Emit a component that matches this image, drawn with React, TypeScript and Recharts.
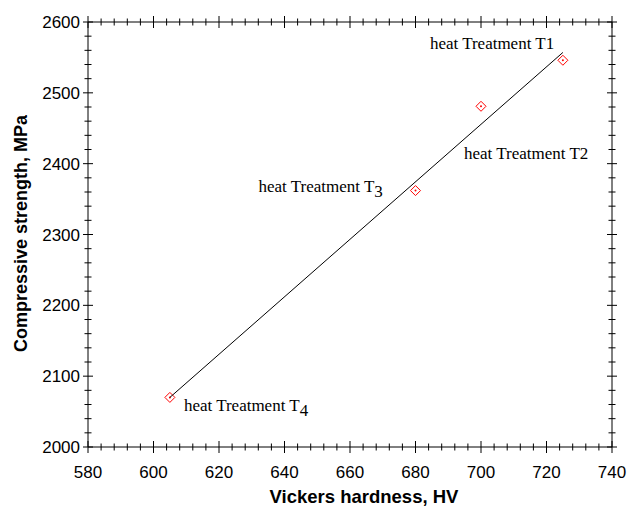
import { ScatterChart, Scatter, XAxis, YAxis } from 'recharts';

const hardness = [605, 680, 700, 725];
const strength = [2070, 2362, 2481, 2546];
const labelMain = ['heat Treatment T', 'heat Treatment T', 'heat Treatment T2', 'heat Treatment T1'];
const labelSub = ['4', '3', '', ''];

// least-squares fit through the four points
const fitX = [605, 725];
const fitY = [2070, 2557];

const xTicks = Array.from({ length: 41 }, (_, i) => 580 + i * 4);
const yTicks = Array.from({ length: 31 }, (_, i) => 2000 + i * 20);

const points = hardness.map((x, i) => ({ x, y: strength[i], main: labelMain[i], sub: labelSub[i] }));
const fit = fitX.map((x, i) => ({ x, y: fitY[i] }));

// text offsets from each marker (px)
const labelOffset = [
  { dx: 14, dy: 14 },
  { dx: -157, dy: 1 },
  { dx: -17, dy: 53 },
  { dx: -133, dy: -11 },
];

const tickFont = { fontFamily: 'Liberation Sans, Arial, sans-serif', fontSize: 17, fill: '#000' };
const titleFont = { fontFamily: 'Liberation Sans, Arial, sans-serif', fontWeight: 'bold', fill: '#000' };

const XTick = ({ x, y, payload, top }: any) => {
  const major = payload.value % 20 === 0;
  const len = major ? 6 : 3.5;
  return (
    <g>
      <line x1={x} x2={x} y1={y - len} y2={y + len} stroke="#000" />
      {!top && major && (
        <text x={x} y={y + 31} textAnchor="middle" {...tickFont}>
          {payload.value}
        </text>
      )}
    </g>
  );
};

const YTick = ({ x, y, payload, right }: any) => {
  const major = payload.value % 100 === 0;
  const len = major ? 5 : 3.5;
  return (
    <g>
      <line x1={x - len} x2={x + len} y1={y} y2={y} stroke="#000" />
      {!right && major && (
        <text x={x - 8} y={y + 6} textAnchor="end" {...tickFont}>
          {payload.value}
        </text>
      )}
    </g>
  );
};

const Marker = ({ cx, cy, payload, index }: any) => {
  const r = 5;
  const off = labelOffset[index];
  return (
    <g>
      <path
        d={`M${cx},${cy - r}L${cx + r},${cy}L${cx},${cy + r}L${cx - r},${cy}Z`}
        fill="none"
        stroke="#f00"
      />
      <circle cx={cx} cy={cy} r={1} fill="#f00" />
      <text x={cx + off.dx} y={cy + off.dy} fontFamily="Liberation Serif, Times New Roman, serif" fontSize={17} fill="#000">
        <tspan>{payload.main}</tspan>
        {payload.sub && <tspan dy={5}>{payload.sub}</tspan>}
      </text>
    </g>
  );
};

export default function App() {
  return (
    <div style={{ position: 'absolute', left: 0, top: 0, background: '#fff' }}>
      <ScatterChart width={630} height={507} margin={{ top: 21, right: 17, bottom: 0, left: 0 }}>
        <XAxis
          type="number"
          dataKey="x"
          domain={[580, 740]}
          ticks={xTicks}
          interval={0}
          height={60}
          tickSize={0}
          tickMargin={0}
          tickLine={false}
          axisLine={{ stroke: '#000' }}
          tick={<XTick />}
          label={{
            content: ({ viewBox }: any) => (
              <text
                x={viewBox.x + viewBox.width / 2 + 14}
                y={viewBox.y + 56}
                textAnchor="middle"
                fontSize={18.5}
                {...titleFont}
              >
                Vickers hardness, HV
              </text>
            ),
          }}
        />
        <XAxis
          xAxisId="top"
          orientation="top"
          type="number"
          dataKey="x"
          domain={[580, 740]}
          ticks={xTicks}
          interval={0}
          height={1}
          tickSize={0}
          tickMargin={0}
          tickLine={false}
          axisLine={{ stroke: '#000' }}
          tick={<XTick top />}
        />
        <YAxis
          type="number"
          dataKey="y"
          domain={[2000, 2600]}
          ticks={yTicks}
          interval={0}
          width={88}
          tickSize={0}
          tickMargin={0}
          tickLine={false}
          axisLine={{ stroke: '#000' }}
          tick={<YTick />}
          label={{
            content: ({ viewBox }: any) => {
              const cy = viewBox.y + viewBox.height / 2 - 1;
              return (
                <text
                  x={27}
                  y={cy}
                  transform={`rotate(-90 27 ${cy})`}
                  textAnchor="middle"
                  fontSize={18}
                  {...titleFont}
                >
                  Compressive strength, MPa
                </text>
              );
            },
          }}
        />
        <YAxis
          yAxisId="right"
          orientation="right"
          type="number"
          dataKey="y"
          domain={[2000, 2600]}
          ticks={yTicks}
          interval={0}
          width={1}
          tickSize={0}
          tickMargin={0}
          tickLine={false}
          axisLine={{ stroke: '#000' }}
          tick={<YTick right />}
        />
        <Scatter data={points} shape={<Marker />} isAnimationActive={false} />
        <Scatter
          data={fit}
          line={{ stroke: '#000', strokeWidth: 1 }}
          shape={() => <g />}
          isAnimationActive={false}
        />
        {/* binds the mirrored top/right frame axes */}
        <Scatter data={fit} xAxisId="top" yAxisId="right" shape={() => <g />} isAnimationActive={false} />
      </ScatterChart>
    </div>
  );
}
